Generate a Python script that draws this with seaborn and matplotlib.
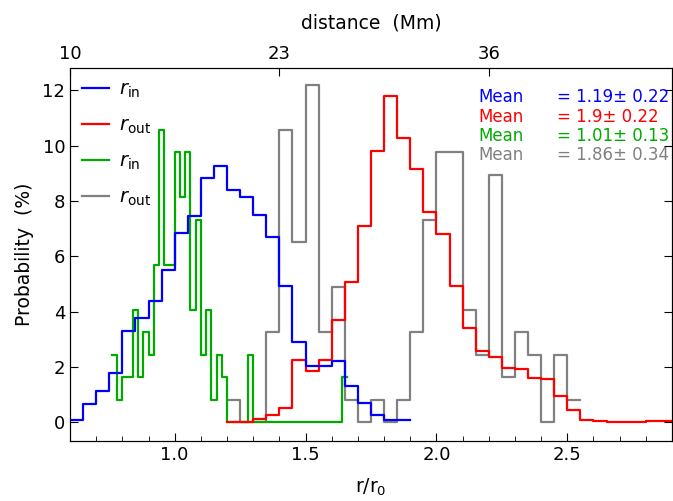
import numpy as np
import pandas as pd
import matplotlib
matplotlib.use("Agg")
import matplotlib.pyplot as plt
from matplotlib.ticker import MultipleLocator
import seaborn as sns

# ---- data (probability in % per bin) ----
# r_in (blue), bins of 0.05 starting at 0.60
blue_start, blue_width = 0.60, 0.05
blue_vals = [0.07, 0.68, 1.13, 1.80, 3.29, 3.76, 4.40, 5.50, 6.86, 7.47,
             8.82, 9.26, 8.41, 8.16, 7.51, 6.71, 4.91, 2.91, 2.05, 2.05,
             2.21, 1.31, 0.71, 0.27, 0.07, 0.07]

# r_out (red), bins of 0.05 starting at 1.20
red_start, red_width = 1.20, 0.05
red_vals = [0.0, 0.0, 0.13, 0.26, 0.53, 2.25, 1.85, 2.25, 3.71, 5.07,
            7.10, 9.80, 11.79, 10.28, 9.15, 7.60, 6.80, 4.91, 3.41, 2.57,
            2.37, 1.97, 1.92, 1.62, 1.56, 0.94, 0.44, 0.08, 0.05, 0.03,
            0.03, 0.03, 0.05, 0.05]

# r_in (green), bins of 0.02 starting at 0.76
green_start, green_width = 0.76, 0.02
green_vals = [2.44, 0.81, 1.63, 1.63, 4.07, 1.63, 3.25, 2.44, 5.69, 10.57,
              5.69, 5.69, 9.76, 8.13, 9.76, 4.07, 7.32, 2.44, 4.07, 0.81,
              2.44, 1.63, 0.0, 0.0, 0.0, 0.0, 2.44, 0.0, 0.0, 0.0,
              0.0, 0.0, 0.0, 0.0, 0.0, 0.0, 0.0, 0.0, 0.0, 0.0,
              0.0, 0.0, 0.0, 0.0, 1.63]

# r_out (gray), bins of 0.05 starting at 1.20
gray_start, gray_width = 1.20, 0.05
gray_vals = [0.81, 0.0, 0.0, 3.25, 10.57, 6.50, 12.20, 3.25, 4.88, 0.81,
             0.0, 0.81, 0.0, 0.81, 3.25, 7.32, 9.76, 9.76, 4.07, 2.44,
             8.94, 1.63, 3.25, 2.44, 0.0, 2.44, 0.81]

means = [1.19, 1.9, 1.01, 1.86]
stds = [0.22, 0.22, 0.13, 0.34]
colors = ["#0000ff", "#ff0000", "#00aa00", "#808080"]
labels = [r"$r_{\rm in}$", r"$r_{\rm out}$", r"$r_{\rm in}$", r"$r_{\rm out}$"]

# top axis: distance in Mm
top_ticks = [0.6, 1.4, 2.2]
top_labels = ["10", "23", "36"]

fig = plt.figure(figsize=(6.73, 5.01), dpi=100)
ax = fig.add_axes([0.104, 0.12, 0.8945, 0.744])


def draw(start, width, vals, color, label, z):
    vals = np.asarray(vals, dtype=float)
    edges = np.round(start + width * np.arange(len(vals) + 1), 4)
    df = pd.DataFrame({"r": edges[:-1] + width / 2, "p": vals})
    sns.histplot(data=df, x="r", weights="p", bins=list(edges), element="step",
                 fill=False, color=color, linewidth=1.6, label=label,
                 zorder=z, ax=ax)


draw(blue_start, blue_width, blue_vals, colors[0], labels[0], 5)
draw(red_start, red_width, red_vals, colors[1], labels[1], 4)
draw(green_start, green_width, green_vals, colors[2], labels[2], 3)
draw(gray_start, gray_width, gray_vals, colors[3], labels[3], 2)

ax.set_xlim(0.6, 2.9)
ax.set_ylim(-0.67, 12.8)
ax.xaxis.set_major_locator(MultipleLocator(0.5))
ax.xaxis.set_minor_locator(MultipleLocator(0.1))
ax.yaxis.set_major_locator(MultipleLocator(2))
ax.yaxis.set_minor_locator(MultipleLocator(0.5))
ax.tick_params(which="both", direction="in", right=True, top=False, labelsize=13)
ax.tick_params(which="major", length=6)
ax.tick_params(which="minor", length=3.5)
ax.set_xlabel(r"r/r$_0$", fontsize=13.5, labelpad=9)
ax.set_ylabel("Probability  (%)", fontsize=13.5, labelpad=6)

# mean +- std annotations
for i in range(4):
    y = 0.922 - 0.052 * i
    ax.text(0.678, y, "Mean", color=colors[i], fontsize=12,
            transform=ax.transAxes, va="center")
    ax.text(0.809, y, f"= {means[i]}\u00b1 {stds[i]}", color=colors[i],
            fontsize=12, transform=ax.transAxes, va="center")

ax.legend(loc="upper left", frameon=False, fontsize=14, handlelength=1.4,
          labelspacing=0.8, handletextpad=0.5, borderaxespad=0.2)

ax2 = ax.twiny()
ax2.set_xlim(ax.get_xlim())
ax2.set_xticks(top_ticks)
ax2.set_xticklabels(top_labels)
ax2.minorticks_off()
ax2.tick_params(direction="in", length=6, labelsize=13)
ax2.set_xlabel("distance  (Mm)", fontsize=13.5, labelpad=12)

fig.savefig("out.png", dpi=100)
